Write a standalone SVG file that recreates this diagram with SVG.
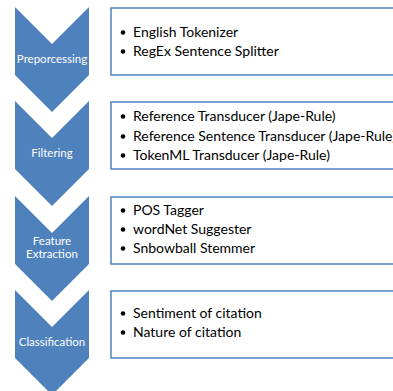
<svg xmlns="http://www.w3.org/2000/svg" width="393" height="391" viewBox="0 0 393 391">
<defs>
<style>
.chev{fill:#4f81bd;}
.lab{fill:#ffffff;font-family:"Lato","Liberation Sans",sans-serif;font-size:11.5px;text-anchor:middle;}
.box{fill:#ffffff;stroke:#4f81bd;stroke-width:1.5;}
.item{fill:#000000;font-family:"Lato","Liberation Sans",sans-serif;font-size:14px;}
.dot{fill:#000000;}
</style>
<path id="chevShape" d="M0,0 L37,37 L74,0 L74,68 L37,105 L0,68 Z"/>
</defs>
<rect width="393" height="391" fill="#ffffff"/>
<g id="connectors"></g>
<g id="step1">
<use href="#chevShape" class="chev" x="15" y="7"/>
<text class="lab" x="52" y="63">Preporcessing</text>
</g>
<g id="step2">
<use href="#chevShape" class="chev" x="15" y="101"/>
<text class="lab" x="52" y="157">Filtering</text>
</g>
<g id="step3">
<use href="#chevShape" class="chev" x="15" y="196"/>
<text class="lab" x="52" y="245">Feature</text>
<text class="lab" x="52" y="258">Extraction</text>
</g>
<g id="step4">
<use href="#chevShape" class="chev" x="15" y="290"/>
<text class="lab" x="52" y="346">Classification</text>
</g>
<g id="box1">
<rect class="box" x="111" y="8" width="300" height="67"/>
<circle class="dot" cx="123" cy="32.5" r="2.3"/>
<text class="item" x="133" y="37">English Tokenizer</text>
<circle class="dot" cx="123" cy="51.5" r="2.3"/>
<text class="item" x="133" y="56">RegEx Sentence Splitter</text>
</g>
<g id="box2">
<rect class="box" x="111" y="102" width="300" height="67"/>
<circle class="dot" cx="123" cy="116.5" r="2.3"/>
<text class="item" x="133" y="121">Reference Transducer (Jape-Rule)</text>
<circle class="dot" cx="123" cy="136.5" r="2.3"/>
<text class="item" x="133" y="141">Reference Sentence Transducer (Jape-Rule)</text>
<circle class="dot" cx="123" cy="155.5" r="2.3"/>
<text class="item" x="133" y="160">TokenML Transducer (Jape-Rule)</text>
</g>
<g id="box3">
<rect class="box" x="111" y="197" width="300" height="67"/>
<circle class="dot" cx="123" cy="210.5" r="2.3"/>
<text class="item" x="133" y="215">POS Tagger</text>
<circle class="dot" cx="123" cy="229.5" r="2.3"/>
<text class="item" x="133" y="234">wordNet Suggester</text>
<circle class="dot" cx="123" cy="248.5" r="2.3"/>
<text class="item" x="133" y="253">Snbowball Stemmer</text>
</g>
<g id="box4">
<rect class="box" x="111" y="291" width="300" height="67"/>
<circle class="dot" cx="123" cy="313.5" r="2.3"/>
<text class="item" x="133" y="318">Sentiment of citation</text>
<circle class="dot" cx="123" cy="332.5" r="2.3"/>
<text class="item" x="133" y="337">Nature of citation</text>
</g>
</svg>
